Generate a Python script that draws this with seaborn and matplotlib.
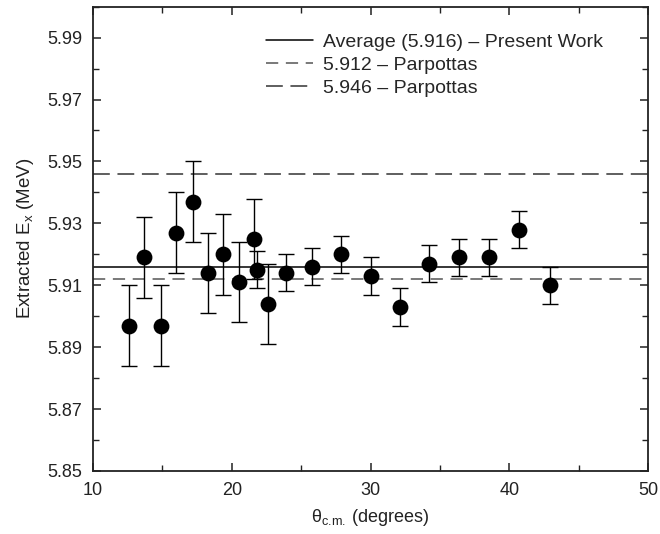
import numpy as np
import pandas as pd
import seaborn as sns
import matplotlib.pyplot as plt
from matplotlib.ticker import MultipleLocator

# angle (deg), extracted Ex (MeV), error
theta = [12.6, 13.7, 14.9, 16.0, 17.2, 18.3, 19.4, 20.5, 21.6, 21.8, 22.6,
         23.9, 25.8, 27.9, 30.0, 32.1, 34.2, 36.4, 38.5, 40.7, 42.9]
ex = [5.897, 5.919, 5.897, 5.927, 5.937, 5.914, 5.920, 5.911, 5.925, 5.915, 5.904,
      5.914, 5.916, 5.920, 5.913, 5.903, 5.917, 5.919, 5.919, 5.928, 5.910]
err = [0.013, 0.013, 0.013, 0.013, 0.013, 0.013, 0.013, 0.013, 0.013, 0.006, 0.013,
       0.006, 0.006, 0.006, 0.006, 0.006, 0.006, 0.006, 0.006, 0.006, 0.006]

avg_val = 5.916
parp_low = 5.912
parp_high = 5.946

df = pd.DataFrame({"theta": theta, "ex": ex, "err": err})

sns.set_theme(style="ticks")
plt.rcParams['font.family'] = ['Liberation Sans', 'DejaVu Sans']
plt.rcParams['mathtext.fontset'] = 'custom'
plt.rcParams['mathtext.rm'] = 'Liberation Sans'
plt.rcParams['mathtext.it'] = 'Liberation Sans'

fig = plt.figure(figsize=(6.6, 5.34), dpi=100)
ax = fig.add_axes([0.141, 0.118, 0.841, 0.8695])

ax.axhline(avg_val, color="black", lw=1.1, label="Average (5.916) \u2013 Present Work")
ax.axhline(parp_low, color="#555555", lw=1.1, ls=(0, (8, 5)), label="5.912 \u2013 Parpottas")
ax.axhline(parp_high, color="#333333", lw=1.1, ls=(0, (11, 5)), label="5.946 \u2013 Parpottas")

ax.errorbar(df["theta"], df["ex"], yerr=df["err"], fmt="none", ecolor="black",
            elinewidth=1.0, capsize=6, capthick=1.0, zorder=3)
sns.scatterplot(data=df, x="theta", y="ex", ax=ax, color="black", s=130,
                edgecolor="black", linewidth=0, zorder=4, legend=False)

ax.set_xlim(10, 50)
ax.set_ylim(5.85, 6.00)
ax.xaxis.set_major_locator(MultipleLocator(10))
ax.xaxis.set_minor_locator(MultipleLocator(5))
ax.set_yticks([5.85, 5.87, 5.89, 5.91, 5.93, 5.95, 5.97, 5.99])
ax.yaxis.set_minor_locator(MultipleLocator(0.01))
ax.tick_params(which="both", direction="in", top=True, right=True, labelsize=13,
               colors="#222222", pad=8)
ax.tick_params(which="major", length=6, width=1.1)
ax.tick_params(which="minor", length=4, width=1.0)
for s in ax.spines.values():
    s.set_linewidth(1.3)
    s.set_color("#222222")

ax.set_xlabel("\u03b8$_{\\mathrm{c.\\!m.}}$\u2009(degrees)", fontsize=13, color="#222222", labelpad=6)
ax.set_ylabel("Extracted E$_\\mathrm{x}$ (MeV)", fontsize=13.5, color="#222222", labelpad=8)

leg = ax.legend(loc="upper left", frameon=False, fontsize=14, handlelength=2.4,
                handletextpad=0.55, bbox_to_anchor=(0.28, 0.98), labelspacing=0.28)

fig.savefig("out.png", dpi=100)
